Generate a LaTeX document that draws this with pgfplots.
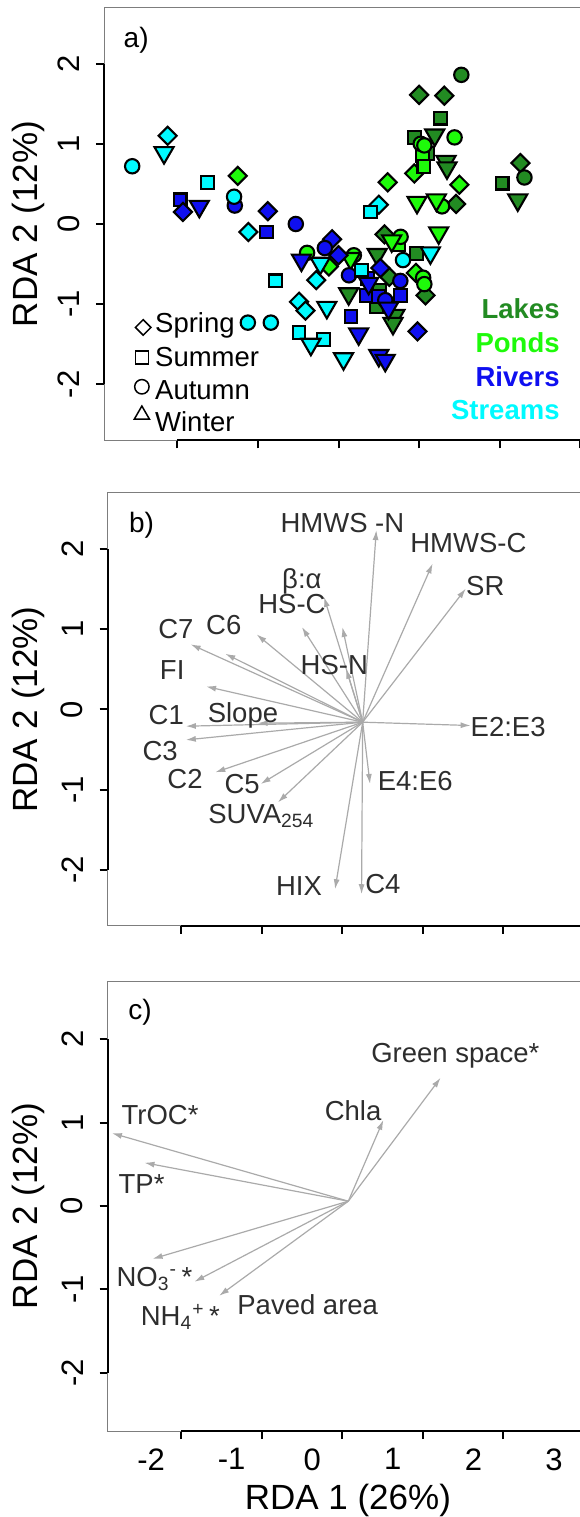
\documentclass[border=0pt]{standalone}
\usepackage{pgfplots}
\pgfplotsset{compat=1.18}
\usetikzlibrary{arrows.meta}
\usepackage{fontspec}
\setmainfont{Liberation Sans}
\definecolor{lakec}{RGB}{34,139,34}
\definecolor{pondc}{RGB}{30,250,10}
\definecolor{riverc}{RGB}{15,15,240}
\definecolor{streamc}{RGB}{0,250,255}
\definecolor{arrc}{RGB}{170,170,170}
\definecolor{labc}{RGB}{45,45,45}
\definecolor{boxc}{RGB}{125,125,125}
\newcommand\lbl{\fontsize{13.75}{16}\selectfont}
\pgfplotsset{
  rda/.style={
    scale only axis, width=246.2pt, height=216.5pt,
    xmin=-2.91, xmax=3.2, ymin=-2.7, ymax=2.7,
    axis line style={draw=boxc, line width=0.5pt},
    xtick={-2,-1,0,1,2,3}, ytick={-2,-1,0,1,2},
    yticklabels={{-2},{-1},{0},{1},{2}},
    tick pos=left, tick align=outside,
    major tick length=4pt,
    major tick style={black, line width=1pt},
    yticklabel style={font=\fontsize{15.5}{18}\selectfont, rotate=90, anchor=south, inner sep=0pt},
    yticklabel shift=8pt,
    xticklabel style={font=\fontsize{15.5}{18}\selectfont, anchor=north, inner sep=0pt, xshift=-15pt},
    xticklabel shift=4.5pt,
    ylabel={RDA 2 (12\%)},
    every axis y label/.style={at={([xshift=-39.4pt]rel axis cs:0,0.5)}, rotate=90, anchor=center, font=\fontsize{17.5}{20}\selectfont},
    clip=false,
  },
  mk/.style={only marks, mark options={draw=black, line width=1.05pt}},
  spr/.style={mk, mark=square*, mark size=3.2pt, mark options={rotate=45, draw=black, line width=1.05pt}},
  sum/.style={mk, mark=square*, mark size=3.2pt},
  aut/.style={mk, mark=*, mark size=3.6pt},
  win/.style={mk, mark=triangle*, mark size=5.5pt, mark options={rotate=180, draw=black, line width=1.05pt}},
  arr/.style={draw=arrc, line width=0.6pt, -{Latex[length=5pt,width=3pt]}},
}
\begin{document}
\begin{tikzpicture}
% ---------------- panel a
\begin{axis}[rda, at={(52pt,538.25pt)}, anchor=south west, xticklabels={},
  ylabel style={at={([xshift=-37.8pt]rel axis cs:0,0.5)}}]
\draw[black, line width=1pt] (axis cs:-2,-2.7) -- (axis cs:3,-2.7);
\draw[black, line width=1pt] (axis cs:-2.91,-2) -- (axis cs:-2.91,2);
% Lakes
\addplot[spr, fill=lakec] coordinates {(1.0,1.61) (1.313,1.60) (1.458,0.25) (2.257,0.76) (0.57,-0.13) (0.63,-0.66) (1.08,-0.89)};
\addplot[sum, fill=lakec] coordinates {(1.263,1.32) (0.94,1.08) (1.11,0.88) (2.03,0.51) (0.97,-0.37) (0.51,-0.825) (0.47,-1.03)};
\addplot[aut, fill=lakec] coordinates {(1.524,1.86) (2.307,0.58)};
\addplot[win, fill=lakec] coordinates {(1.194,1.11) (1.334,0.78) (1.346,0.70) (2.224,0.30) (0.48,-0.38) (0.126,-0.87) (0.70,-1.14) (0.676,-1.24)};
% Ponds
\addplot[spr, fill=pondc] coordinates {(-1.25,0.60) (0.61,0.52) (0.94,0.63) (1.50,0.49) (-0.12,-0.53) (0.96,-0.61)};
\addplot[sum, fill=pondc] coordinates {(1.045,0.85) (1.06,0.72) (0.74,-0.26)};
\addplot[aut, fill=pondc] coordinates {(1.44,1.08) (1.02,1.0) (1.065,0.98) (1.285,0.22) (-0.39,-0.36) (0.19,-0.39) (0.77,-0.16) (1.05,-0.67) (1.065,-0.75)};
\addplot[win, fill=pondc] coordinates {(0.974,0.27) (1.214,0.30) (1.243,-0.11) (0.66,-0.21) (0.15,-0.43)};
% Rivers
\addplot[sum, fill=riverc] coordinates {(-1.966,0.30) (-0.89,-0.10) (0.155,-1.15) (0.345,-0.89) (0.50,-0.90) (0.767,-0.89) (0.36,-0.68)};
\addplot[spr, fill=riverc] coordinates {(-1.93,0.15) (-0.877,0.16) (-0.08,-0.19) (0.0,-0.39) (0.52,-0.55) (0.98,-1.34)};
\addplot[aut, fill=riverc] coordinates {(-1.287,0.23) (-0.53,0.0) (-0.17,-0.30) (0.13,-0.64) (0.767,-0.71) (0.58,-0.95)};
\addplot[win, fill=riverc] coordinates {(-1.727,0.22) (-0.46,-0.45) (0.374,-0.74) (0.25,-1.37) (0.62,-1.05) (0.50,-1.64) (0.58,-1.70)};
% Streams
\addplot[spr, fill=streamc] coordinates {(-2.12,1.10) (-1.118,-0.10) (-0.277,-0.70) (-0.49,-0.97) (-0.41,-1.08) (0.50,0.24)};
\addplot[sum, fill=streamc] coordinates {(-1.627,0.52) (-0.778,-0.71) (-0.49,-1.35) (-0.19,-1.44) (0.394,0.15) (0.285,-0.575)};
\addplot[aut, fill=streamc] coordinates {(-2.56,0.72) (-1.296,0.34) (-1.125,-1.23) (-0.84,-1.23) (0.80,-0.45)};
\addplot[win, fill=streamc] coordinates {(-2.165,0.89) (-0.343,-1.50) (-0.145,-1.04) (0.062,-1.68) (-0.227,-0.49) (1.14,-0.36)};
% season legend
\addplot[only marks, mark=square, mark size=2.75pt, mark options={rotate=45, line width=0.75pt}, black] coordinates {(-2.424,-1.29)};
\addplot[only marks, mark=square, mark size=3.3pt, mark options={line width=0.75pt}, black] coordinates {(-2.44,-1.665)};
\addplot[only marks, mark=o, mark size=3.6pt, mark options={line width=0.75pt}, black] coordinates {(-2.44,-2.03)};
\addplot[only marks, mark=triangle, mark size=4.4pt, mark options={line width=0.75pt}, black] coordinates {(-2.44,-2.38)};
\node[anchor=west, inner sep=0pt, font=\lbl] at (axis cs:-2.28,-1.27) {Spring};
\node[anchor=west, inner sep=0pt, font=\lbl] at (axis cs:-2.28,-1.655) {Summer};
\node[anchor=west, inner sep=0pt, font=\lbl] at (axis cs:-2.28,-2.07) {Autumn};
\node[anchor=west, inner sep=0pt, font=\lbl] at (axis cs:-2.28,-2.46) {Winter};
% type legend
\node[anchor=east, inner sep=0pt, font=\lbl\bfseries, text=lakec] at (axis cs:2.748,-1.05) {Lakes};
\node[anchor=east, inner sep=0pt, font=\lbl\bfseries, text=pondc] at (axis cs:2.748,-1.48) {Ponds};
\node[anchor=east, inner sep=0pt, font=\lbl\bfseries, text=riverc] at (axis cs:2.748,-1.904) {Rivers};
\node[anchor=east, inner sep=0pt, font=\lbl\bfseries, text=streamc] at (axis cs:2.748,-2.32) {Streams};
\node[font=\fontsize{14}{16}\selectfont] at (axis cs:-2.511,2.294) {a)};
\end{axis}
% ---------------- panel b
\begin{axis}[rda, at={(53.85pt,295.5pt)}, anchor=south west, xticklabels={}]
\draw[black, line width=1pt] (axis cs:-2,-2.7) -- (axis cs:3,-2.7);
\draw[black, line width=1pt] (axis cs:-2.91,-2) -- (axis cs:-2.91,2);
\addplot[arr] coordinates {(0.2537,-0.1583) (0.4229,2.2375)};
\addplot[arr] coordinates {(0.2537,-0.1583) (1.1223,1.8208)};
\addplot[arr] coordinates {(0.2537,-0.1583) (1.5337,1.5083)};
\addplot[arr] coordinates {(0.2537,-0.1583) (1.5931,-0.2)};
\addplot[arr] coordinates {(0.2537,-0.1583) (0.3451,-0.9292)};
\addplot[arr] coordinates {(0.2537,-0.1583) (0.24,-2.304)};
\addplot[arr] coordinates {(0.2537,-0.1583) (-0.0891,-2.2417)};
\addplot[arr] coordinates {(0.2537,-0.1583) (-0.7977,-1.1583)};
\addplot[arr] coordinates {(0.2537,-0.1583) (-1.0126,-0.9292)};
\addplot[arr] coordinates {(0.2537,-0.1583) (-1.5749,-0.7833)};
\addplot[arr] coordinates {(0.2537,-0.1583) (-1.9406,-0.3792)};
\addplot[arr] coordinates {(0.2537,-0.1583) (-1.9406,-0.2083)};
\addplot[arr] coordinates {(0.2537,-0.1583) (-1.6891,0.2875)};
\addplot[arr] coordinates {(0.2537,-0.1583) (-1.8811,0.8125)};
\addplot[arr] coordinates {(0.2537,-0.1583) (-1.4514,0.6958)};
\addplot[arr] coordinates {(0.2537,-0.1583) (-1.0629,0.9375)};
\addplot[arr] coordinates {(0.2537,-0.1583) (-0.5006,1.0292)};
\addplot[arr] coordinates {(0.2537,-0.1583) (-0.2263,1.4042)};
\addplot[arr] coordinates {(0.2537,-0.1583) (0.0023,1.0292)};
\addplot[arr] coordinates {(0.2537,-0.1583) (0.048,0.508)};
\addplot[arr] coordinates {(0.2537,-0.1583) (-1.049,-0.171)};
\begin{scope}[every node/.style={font=\lbl, text=labc, inner sep=0pt}]
\node at (axis cs:0.0023,2.3208) {HMWS -N};
\node at (axis cs:1.5657,2.079) {HMWS-C};
\node at (axis cs:1.776,1.5375) {SR};
\node at (axis cs:2.059,-0.221) {E2:E3};
\node at (axis cs:0.907,-0.896) {E4:E6};
\node at (axis cs:0.505,-2.179) {C4};
\node at (axis cs:-0.537,-2.2) {HIX};
\node at (axis cs:-1.0034,-1.325) {SUVA\textsubscript{254}};
\node at (axis cs:-1.241,-0.929) {C5};
\node at (axis cs:-1.95,-0.867) {C2};
\node at (axis cs:-2.26,-0.5125) {C3};
\node at (axis cs:-2.183,-0.075) {C1};
\node at (axis cs:-1.232,-0.075) {Slope};
\node at (axis cs:-2.11,0.4875) {FI};
\node at (axis cs:-2.064,1.0) {C7};
\node at (axis cs:-1.47,1.05) {C6};
\node at (axis cs:-0.624,1.3125) {HS-C};
\node at (axis cs:-0.5006,1.5917) {β:α};
\node at (axis cs:-0.098,0.55) {HS-N};
\end{scope}
\node[font=\fontsize{14}{16}\selectfont] at (axis cs:-2.489,2.3) {b)};
\end{axis}
% ---------------- panel c
\begin{axis}[rda, at={(53.85pt,43pt)}, anchor=south west, height=225pt,
  xticklabels={{-2},{-1},{0},{1},{2},{3}},
  xlabel={RDA 1 (26\%)},
  every axis x label/.style={at={([xshift=-3pt,yshift=-34.5pt]rel axis cs:0.5,0)}, anchor=center, font=\fontsize{17.5}{20}\selectfont}]
\draw[black, line width=1pt] (axis cs:-2,-2.7) -- (axis cs:3,-2.7);
\draw[black, line width=1pt] (axis cs:-2.91,-2) -- (axis cs:-2.91,2);
\addplot[arr] coordinates {(0.0756,0.0576) (-2.857,0.874)};
\addplot[arr] coordinates {(0.0756,0.0576) (-2.4536,0.519)};
\addplot[arr] coordinates {(0.0756,0.0576) (0.511,1.033)};
\addplot[arr] coordinates {(0.0756,0.0576) (1.221,1.539)};
\addplot[arr] coordinates {(0.0756,0.0576) (-2.353,-0.634)};
\addplot[arr] coordinates {(0.0756,0.0576) (-1.835,-0.909)};
\addplot[arr] coordinates {(0.0756,0.0576) (-1.528,-1.078)};
\begin{scope}[every node/.style={font=\lbl, text=labc, inner sep=0pt}]
\node at (axis cs:-2.261,1.086) {TrOC*};
\node at (axis cs:-2.49,0.266) {TP*};
\node at (axis cs:0.135,1.14) {Chla};
\node at (axis cs:1.404,1.805) {Green space*};
\node at (axis cs:-2.33,-0.874) {NO\textsubscript{3}\textsuperscript{-}\,*};
\node at (axis cs:-2.009,-1.33) {NH\textsubscript{4}\textsuperscript{+}\,*};
\node at (axis cs:-0.428,-1.184) {Paved area};
\end{scope}
\node[font=\fontsize{14}{16}\selectfont] at (axis cs:-2.51,2.33) {c)};
\end{axis}
\pgfresetboundingbox
\path[use as bounding box] (0,0) rectangle (289.5pt,758.5pt);
\end{tikzpicture}
\end{document}
